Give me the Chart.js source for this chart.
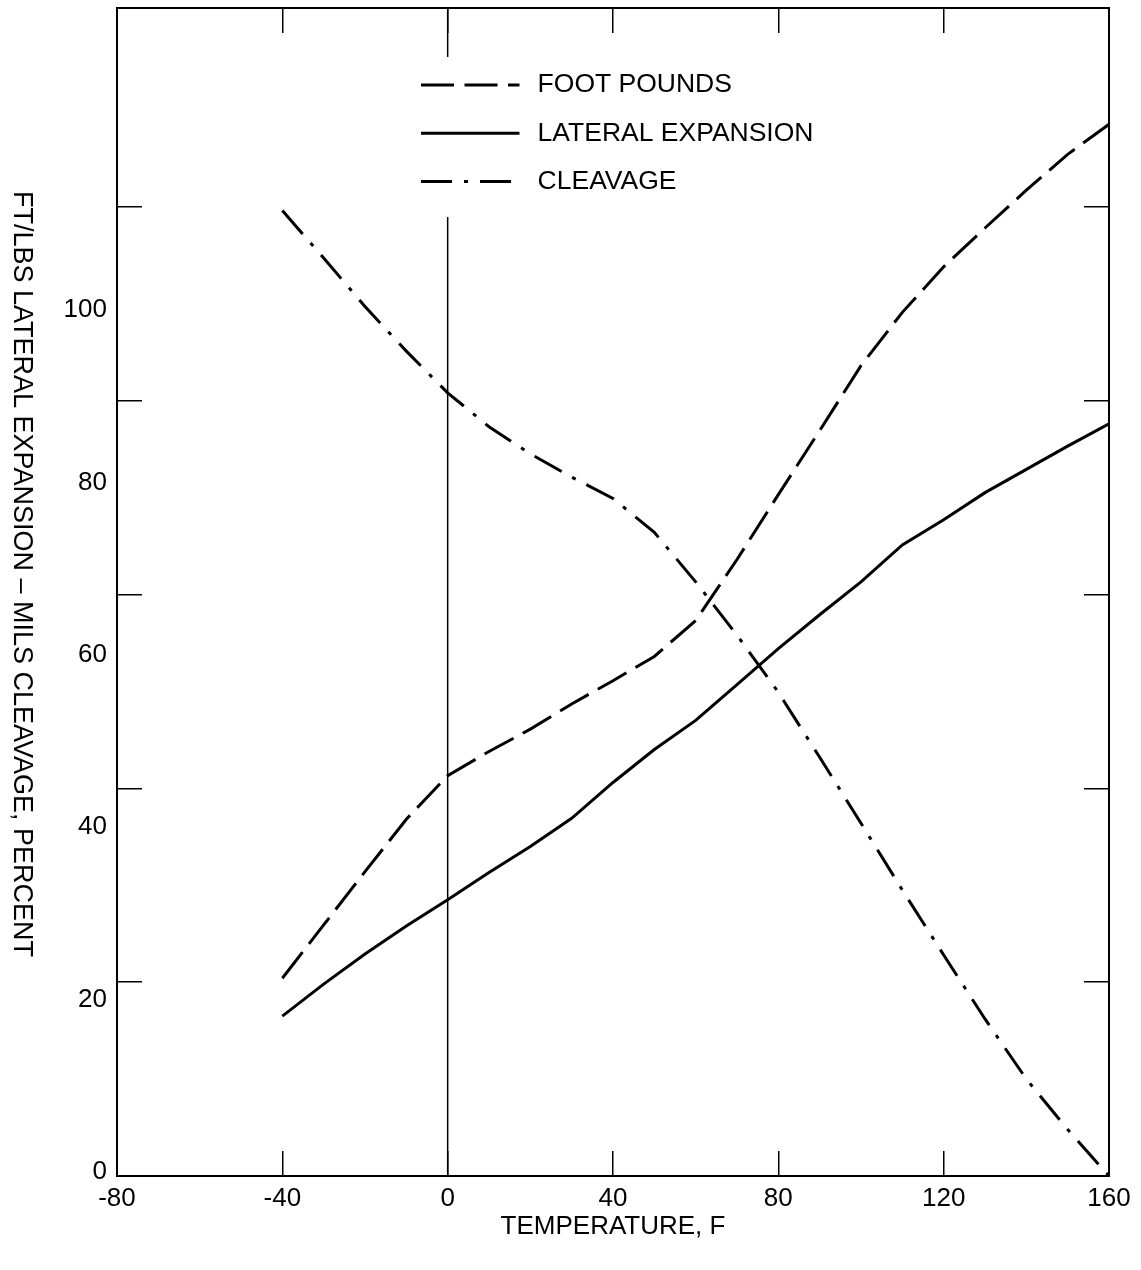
<!DOCTYPE html>
<html>
<head>
<meta charset="utf-8">
<script src="https://cdn.jsdelivr.net/npm/chart.js@4.4.1/dist/chart.umd.min.js"></script>
<style>
  html, body { margin: 0; padding: 0; background: #fff; }
  #wrap { width: 1141px; height: 1270px; position: relative; }
</style>
</head>
<body>
<div id="wrap"><canvas id="chart"></canvas></div>
<script>
// Charpy curves: foot pounds, lateral expansion, cleavage vs temperature

const temperatures = [-40, -30, -20, -10, 0, 10, 20, 30, 40, 50, 60, 70, 80, 90, 100, 110, 120, 130, 140, 150, 160];
const footPounds = [20.4, 25.9, 31.4, 36.8, 41.3, 43.8, 46.1, 48.7, 51.1, 53.6, 57.3, 63.6, 70.3, 76.9, 83.6, 89.1, 93.8, 97.8, 101.7, 105.4, 108.5];
const lateralExpansion = [16.5, 19.8, 22.9, 25.8, 28.5, 31.3, 34.0, 36.9, 40.6, 44.0, 47.0, 50.7, 54.4, 57.9, 61.3, 65.1, 67.7, 70.5, 72.9, 75.3, 77.6];
const cleavage = [99.6, 94.7, 89.7, 85.1, 80.8, 77.3, 74.5, 72.1, 69.9, 66.4, 61.3, 55.8, 49.9, 43.2, 36.4, 29.5, 22.8, 16.2, 10.0, 4.8, 0];

// vertical reference line at 0 F
const refLineX = [0, 0];
const refLineY = [0, 120.5];

const xTicks = [-80, -40, 0, 40, 80, 120, 160];
const yTickMarks = [0, 20, 40, 60, 80, 100];
const yLabels = [0, 20, 40, 60, 80, 100];

const FONT = "'Liberation Sans', Arial, sans-serif";

function toPoints(xs, ys) {
    return xs.map((x, i) => ({x: x, y: ys[i]}));
}

// legend drawn inside the plot, on a white box
const insideLegend = {
    id: 'insideLegend',
    afterDatasetsDraw(chart, args, opts) {
        const ctx = chart.ctx;
        const ca = chart.chartArea;
        const x0 = ca.left + opts.left;
        const top = ca.top + opts.top;
        ctx.save();
        ctx.fillStyle = '#fff';
        ctx.fillRect(x0 - opts.pad, top, opts.width, opts.height);
        ctx.font = opts.font;
        ctx.textBaseline = 'middle';
        ctx.textAlign = 'left';
        let y = top + opts.first;
        chart.data.datasets.forEach(ds => {
            if (!ds.label) return;
            ctx.beginPath();
            ctx.setLineDash(ds.borderDash || []);
            ctx.lineCap = 'butt';
            ctx.lineWidth = ds.borderWidth;
            ctx.strokeStyle = ds.borderColor;
            ctx.moveTo(x0, y);
            ctx.lineTo(x0 + opts.lineLength, y);
            ctx.stroke();
            ctx.setLineDash([]);
            ctx.fillStyle = '#000';
            ctx.fillText(ds.label, x0 + opts.textGap, y);
            y += opts.step;
        });
        ctx.restore();
    }
};

// y title reads top to bottom
const sideTitle = {
    id: 'sideTitle',
    afterDraw(chart, args, opts) {
        const ctx = chart.ctx;
        const ca = chart.chartArea;
        ctx.save();
        ctx.translate(opts.x, (ca.top + ca.bottom) / 2 + opts.shift);
        ctx.rotate(Math.PI / 2);
        ctx.font = opts.font;
        ctx.fillStyle = '#000';
        ctx.textAlign = 'center';
        ctx.textBaseline = 'middle';
        ctx.fillText(opts.text, 0, 0);
        ctx.restore();
    }
};

const tickMarkGrid = {drawOnChartArea: false, drawTicks: true, tickLength: -25, color: '#000', lineWidth: 1.5};
const frameBorder = {display: true, color: '#000', width: 2};

const ctx = document.getElementById('chart');
const mychart = new Chart(ctx, {
    type: 'line',
    data: {
        datasets: [
            {
                label: 'FOOT POUNDS',
                data: toPoints(temperatures, footPounds),
                borderColor: '#000',
                borderWidth: 3,
                borderDash: [33, 10.5]
            },
            {
                label: 'LATERAL EXPANSION',
                data: toPoints(temperatures, lateralExpansion),
                borderColor: '#000',
                borderWidth: 3
            },
            {
                label: 'CLEAVAGE',
                data: toPoints(temperatures, cleavage),
                borderColor: '#000',
                borderWidth: 3,
                borderDash: [31, 12, 4, 12]
            },
            {
                label: '',
                data: toPoints(refLineX, refLineY),
                borderColor: '#000',
                borderWidth: 1.5
            }
        ]
    },
    options: {
        responsive: true,
        maintainAspectRatio: false,
        animation: false,
        layout: {padding: {top: 8, right: 32, bottom: 0, left: 0}},
        elements: {
            point: {radius: 0},
            line: {tension: 0, borderCapStyle: 'butt', fill: false}
        },
        plugins: {
            legend: {display: false},
            tooltip: {enabled: false},
            insideLegend: {
                left: 304, top: 49, pad: 15, width: 440, height: 160,
                first: 28, step: 48.3, lineLength: 98.5, textGap: 116.6,
                font: '26.5px ' + FONT
            },
            sideTitle: {
                text: 'FT/LBS LATERAL EXPANSION \u2013 MILS CLEAVAGE, PERCENT',
                x: 21, shift: -18,
                font: '27px ' + FONT
            }
        },
        scales: {
            x: {
                type: 'linear',
                position: 'bottom',
                min: -80,
                max: 160,
                afterBuildTicks: ax => { ax.ticks = xTicks.map(v => ({value: v})); },
                ticks: {font: {family: FONT, size: 26}, color: '#000', padding: 32, maxRotation: 0, autoSkip: false},
                grid: tickMarkGrid,
                border: frameBorder,
                title: {
                    display: true,
                    text: 'TEMPERATURE, F',
                    font: {family: FONT, size: 26},
                    color: '#000',
                    padding: {top: 0, bottom: 28}
                },
                afterFit: ax => { ax.height = 94; ax.paddingLeft = 0; ax.paddingRight = 0; }
            },
            x2: {
                type: 'linear',
                position: 'top',
                min: -80,
                max: 160,
                afterBuildTicks: ax => { ax.ticks = xTicks.map(v => ({value: v})); },
                ticks: {display: false},
                grid: tickMarkGrid,
                border: frameBorder,
                afterFit: ax => { ax.height = 0; ax.paddingLeft = 0; ax.paddingRight = 0; }
            },
            y: {
                type: 'linear',
                position: 'left',
                weight: 0,
                min: 0,
                max: 120.5,
                afterBuildTicks: ax => { ax.ticks = yTickMarks.map(v => ({value: v})); },
                ticks: {display: false},
                grid: tickMarkGrid,
                border: frameBorder,
                afterFit: ax => { ax.width = 0; ax.paddingTop = 0; ax.paddingBottom = 0; }
            },
            y1: {
                type: 'linear',
                position: 'right',
                min: 0,
                max: 120.5,
                afterBuildTicks: ax => { ax.ticks = yTickMarks.map(v => ({value: v})); },
                ticks: {display: false},
                grid: tickMarkGrid,
                border: frameBorder,
                afterFit: ax => { ax.width = 0; ax.paddingTop = 0; ax.paddingBottom = 0; }
            },
            // printed y labels sit on their own spacing in the original
            yLabel: {
                type: 'linear',
                position: 'left',
                weight: 1,
                min: -0.46,
                max: 135.03,
                afterBuildTicks: ax => { ax.ticks = yLabels.map(v => ({value: v})); },
                ticks: {font: {family: FONT, size: 26}, color: '#000', padding: 10},
                grid: {display: false, drawTicks: false},
                border: {display: false},
                afterFit: ax => { ax.width = 117; ax.paddingTop = 0; ax.paddingBottom = 0; }
            }
        }
    },
    plugins: [insideLegend, sideTitle]
});
</script>
</body>
</html>
